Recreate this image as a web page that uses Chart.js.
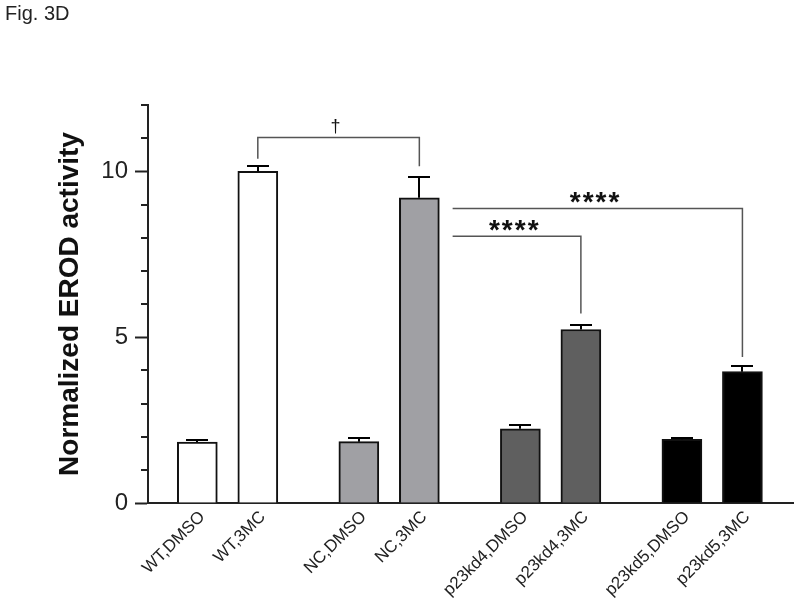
<!DOCTYPE html>
<html>
<head>
<meta charset="utf-8">
<title>Fig. 3D</title>
<script src="https://cdn.jsdelivr.net/npm/chart.js@4"></script>
<style>
  body { margin: 0; background: #fff; }
  #wrap { width: 800px; height: 609px; }
</style>
</head>
<body>
<div id="wrap"><canvas id="myChart" width="800" height="609"></canvas></div>
<script>
var categories = ["WT,DMSO", "WT,3MC", "NC,DMSO", "NC,3MC", "p23kd4,DMSO", "p23kd4,3MC", "p23kd5,DMSO", "p23kd5,3MC"];
var values = [1.84, 10.0, 1.85, 9.2, 2.24, 5.23, 1.92, 3.96];
var errors = [0.07, 0.16, 0.1, 0.64, 0.1, 0.13, 0.04, 0.18];
var yTicks = [0, 5, 10];

// significance brackets: bars joined, height of the bar, where each leg stops
var brackets = [
  { from: 1, to: 3, level: 11.02, legs: [10.38, 10.15], text: "\u2020" },
  { from: 3, to: 5, level: 8.04, legs: [null, 5.71], text: "****" },
  { from: 3, to: 7, level: 8.88, legs: [null, 4.4], text: "****" }
];

var FONT = "'Liberation Sans', Arial, sans-serif";
var barColors = ["#ffffff", "#ffffff", "#a0a0a4", "#a0a0a4", "#5f5f5f", "#5f5f5f", "#000000", "#000000"];

// two bars per group, wider gap between groups
function slot(i) {
  return Math.floor(i / 2) * 2.67 + (i % 2);
}

window.onload = function() {
  montarFigura();
};

var extras = {
  id: "extras",
  afterDatasetsDraw: function(chart) {
    var ctx = chart.ctx;
    var xs = chart.scales.x;
    var ys = chart.scales.y;
    ctx.save();

    // minor ticks on the y axis
    ctx.strokeStyle = "#222";
    ctx.lineWidth = 2;
    for (var v = 0; v <= 12; v++) {
      if (yTicks.indexOf(v) >= 0) continue;
      var py = Math.round(ys.getPixelForValue(v));
      ctx.beginPath();
      ctx.moveTo(ys.right - 7, py);
      ctx.lineTo(ys.right, py);
      ctx.stroke();
    }

    // error bars (upper only)
    ctx.strokeStyle = "#000";
    ctx.lineWidth = 2;
    for (var i = 0; i < values.length; i++) {
      var cx = Math.round(xs.getPixelForValue(slot(i)));
      var y0 = ys.getPixelForValue(values[i]);
      var y1 = Math.round(ys.getPixelForValue(values[i] + errors[i]));
      ctx.beginPath();
      ctx.moveTo(cx, y0);
      ctx.lineTo(cx, y1);
      ctx.moveTo(cx - 11, y1);
      ctx.lineTo(cx + 11, y1);
      ctx.stroke();
    }

    // brackets
    ctx.strokeStyle = "#555";
    ctx.lineWidth = 1.5;
    ctx.fillStyle = "#111";
    ctx.textAlign = "center";
    ctx.textBaseline = "alphabetic";
    brackets.forEach(function(b) {
      var x1 = b.legs[0] === null ? xs.getPixelForValue(slot(b.from) + 0.55) : xs.getPixelForValue(slot(b.from));
      var x2 = xs.getPixelForValue(slot(b.to));
      var ly = ys.getPixelForValue(b.level);
      ctx.beginPath();
      if (b.legs[0] !== null) {
        ctx.moveTo(x1, ys.getPixelForValue(b.legs[0]));
        ctx.lineTo(x1, ly);
      } else {
        ctx.moveTo(x1, ly);
      }
      ctx.lineTo(x2, ly);
      ctx.lineTo(x2, ys.getPixelForValue(b.legs[1]));
      ctx.stroke();

      var spacing = 0;
      if (b.text === "\u2020") {
        ctx.font = "18px " + FONT;
      } else {
        ctx.font = "bold 28px " + FONT;
        spacing = 2;
      }
      ctx.letterSpacing = spacing + "px";
      var m = ctx.measureText(b.text);
      var centerY = ly - 11;
      var base = centerY + (m.actualBoundingBoxAscent - m.actualBoundingBoxDescent) / 2;
      ctx.fillText(b.text, (x1 + x2) / 2 - 3 + spacing / 2, base);
      ctx.letterSpacing = "0px";
    });

    // figure label
    ctx.textAlign = "left";
    ctx.font = "20px " + FONT;
    ctx.fillStyle = "#222";
    ctx.fillText("Fig. 3D", 5, 20);

    ctx.restore();
  }
};

function montarFigura() {
  var ctx = document.getElementById("myChart").getContext("2d");
  var chart = new Chart(ctx, {
    type: "bar",
    data: {
      datasets: [
        {
          data: categories.map(function(c, i) {
            return { x: slot(i), y: values[i] };
          }),
          backgroundColor: barColors,
          borderColor: "#111",
          borderWidth: 2,
          barThickness: 40
        }
      ]
    },
    options: {
      responsive: false,
      animation: false,
      layout: { padding: { top: 105, right: 7, bottom: 0, left: 0 } },
      plugins: {
        legend: { display: false },
        tooltip: { enabled: false }
      },
      scales: {
        x: {
          type: "linear",
          min: -0.815,
          max: 9.846,
          offset: false,
          afterBuildTicks: function(s) {
            s.ticks = categories.map(function(c, i) {
              return { value: slot(i) };
            });
          },
          afterFit: function(s) {
            s.height = 106;
          },
          ticks: {
            autoSkip: false,
            minRotation: 45,
            maxRotation: 45,
            padding: 4,
            labelOffset: 5,
            color: "#222",
            font: { size: 17, family: FONT },
            callback: function(v, i) {
              return categories[i];
            }
          },
          grid: { offset: false, drawOnChartArea: false, drawTicks: false },
          border: { color: "#222", width: 2 }
        },
        y: {
          min: 0,
          max: 12,
          afterFit: function(s) {
            s.width = 148;
          },
          ticks: {
            stepSize: 1,
            autoSkip: false,
            padding: 7,
            color: "#222",
            font: { size: 24, family: FONT },
            callback: function(v) {
              return yTicks.indexOf(v) >= 0 ? String(v) : "";
            }
          },
          grid: {
            drawOnChartArea: false,
            drawTicks: true,
            tickLength: 13,
            tickWidth: 2,
            tickColor: function(c) {
              return c.tick && yTicks.indexOf(c.tick.value) >= 0 ? "#222" : "rgba(0,0,0,0)";
            }
          },
          border: { color: "#222", width: 2 },
          title: {
            display: true,
            text: "Normalized EROD activity",
            color: "#111",
            font: { size: 28, weight: "bold", family: FONT },
            padding: { top: 53, bottom: 0 }
          }
        }
      }
    },
    plugins: [extras]
  });
}
</script>
</body>
</html>
